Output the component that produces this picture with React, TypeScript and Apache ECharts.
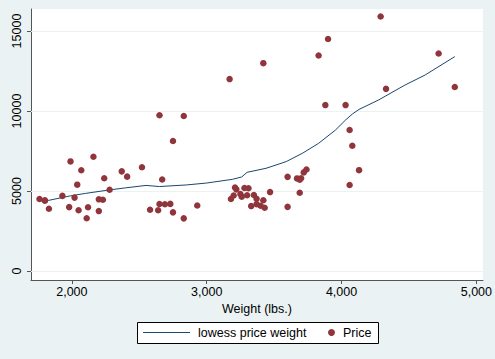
import React, { useEffect, useRef } from "react";
import * as echarts from "echarts";

// Weight (lbs.) and Price of the 74 cars
const weight = [
  2930, 3350, 2640, 3250, 4080, 3670, 2230, 3280, 3880, 3400,
  4330, 3900, 4290, 2110, 3690, 3180, 3220, 2750, 3430, 2120,
  3600, 3600, 3740, 1800, 2650, 4840, 4720, 3830, 2580, 4060,
  3720, 3370, 4130, 2830, 4060, 3310, 3300, 3690, 3370, 2730,
  4030, 3260, 1800, 2200, 2520, 3330, 3700, 3470, 3210, 3200,
  3420, 2690, 2830, 2070, 2650, 2370, 2020, 2280, 2750, 2240,
  1760, 1980, 3420, 1830, 2050, 2410, 2200, 2670, 2160, 2040,
  1930, 1990, 3170,
];
const price = [
  4099, 4749, 3799, 4816, 7827, 5788, 4453, 5189, 10372, 4082,
  11385, 14500, 15906, 3299, 5705, 4504, 5104, 3667, 3955, 3984,
  4010, 5886, 6342, 4389, 4187, 11497, 13594, 13466, 3829, 5379,
  6165, 4516, 6303, 3291, 8814, 5172, 4733, 4890, 4181, 4195,
  10371, 4647, 4425, 4482, 6486, 4060, 5798, 4934, 5222, 4723,
  4424, 4172, 9690, 6295, 9735, 6229, 4589, 5079, 8129, 5799,
  4499, 3995, 12990, 3895, 3798, 5899, 3748, 5719, 7140, 5397,
  4697, 6850, 11995,
];

// Lowess smooth
const lowessWeight = [
  1760, 1830, 1990, 2100, 2270, 2400, 2550, 2650, 2850, 3000,
  3190, 3260, 3300, 3440, 3590, 3710, 3830, 3955, 4030, 4080,
  4130, 4275, 4470, 4620, 4840,
];
const lowessPrice = [
  4380, 4420, 4700, 4850, 5060, 5200, 5350, 5280, 5380, 5500,
  5730, 5880, 6170, 6420, 6840, 7360, 7980, 8810, 9440, 9810,
  10100, 10690, 11620, 12250, 13400,
];

const xTicks = [2000, 3000, 4000, 5000];
const yTicks = [0, 5000, 10000, 15000];

const BG = "#EAF2F3";
const NAVY = "#1A476F";
const MAROON = "#90353B";
const AXIS = "#555555";
const FONT = "Liberation Sans, Arial, sans-serif";

export default function App() {
  const ref = useRef<HTMLDivElement>(null);

  useEffect(() => {
    document.body.style.margin = "0";
    if (!ref.current) return;
    const chart = echarts.init(ref.current, undefined, { renderer: "svg" });
    const scatterData = weight.map((w, i) => [w, price[i]]);
    const lineData = lowessWeight.map((w, i) => [w, lowessPrice[i]]);

    chart.setOption({
      animation: false,
      backgroundColor: BG,
      textStyle: { fontFamily: FONT },
      grid: {
        left: 31,
        right: 10,
        top: 9,
        bottom: 79,
        show: true,
        backgroundColor: "#ffffff",
        borderWidth: 0,
      },
      xAxis: {
        type: "value",
        min: 1697,
        max: 5049,
        name: "Weight (lbs.)",
        nameLocation: "middle",
        nameGap: 20,
        nameTextStyle: { color: "#000", fontSize: 12.5, fontFamily: FONT },
        axisLine: { show: true, onZero: false, lineStyle: { color: AXIS, width: 1 } },
        axisTick: { show: true, length: 4, customValues: xTicks, lineStyle: { color: AXIS } },
        axisLabel: {
          customValues: xTicks,
          color: "#000",
          fontSize: 12.5,
          fontFamily: FONT,
          margin: 5,
          formatter: (v: number) => v.toLocaleString("en-US"),
        },
        splitLine: { show: false },
      },
      yAxis: {
        type: "value",
        min: -560,
        max: 16375,
        axisLine: { show: true, onZero: false, lineStyle: { color: AXIS, width: 1 } },
        axisTick: { show: true, length: 4, customValues: yTicks, lineStyle: { color: AXIS } },
        axisLabel: {
          customValues: yTicks,
          rotate: 90,
          color: "#000",
          fontSize: 12.5,
          fontFamily: FONT,
          margin: 8,
          formatter: (v: number) => String(v),
        },
        splitLine: { show: false },
      },
      legend: [
        {
          left: 143,
          top: 326,
          padding: 0,
          itemWidth: 47,
          itemHeight: 14,
          itemGap: 0,
          data: [{ name: "lowess price weight", icon: "path://M0,6.5L47,6.5L47,7.5L0,7.5Z" }],
          textStyle: { color: "#000", fontSize: 12.5, fontFamily: FONT, padding: [0, 0, 0, 3] },
          z: 10,
        },
        {
          left: 328,
          top: 326,
          padding: 0,
          itemWidth: 7,
          itemHeight: 14,
          data: [{ name: "Price", icon: "circle" }],
          textStyle: { color: "#000", fontSize: 12.5, fontFamily: FONT, padding: [0, 0, 0, 3] },
          z: 10,
        },
      ],
      graphic: [
        {
          type: "rect",
          left: 137,
          top: 322,
          z: 1,
          shape: { width: 241, height: 21 },
          style: { fill: "#ffffff", stroke: "#000000", lineWidth: 1 },
        },
      ],
      series: [
        {
          name: "lowess price weight",
          type: "line",
          data: lineData,
          showSymbol: false,
          symbol: "none",
          lineStyle: { color: NAVY, width: 1 },
          itemStyle: { color: NAVY },
          z: 3,
          markLine: {
            silent: true,
            symbol: "none",
            label: { show: false },
            lineStyle: { color: BG, width: 1, type: "solid" },
            data: yTicks.map((v) => ({ yAxis: v })),
            z: 1,
          },
        },
        {
          name: "Price",
          type: "scatter",
          data: scatterData,
          symbol: "circle",
          symbolSize: 6.5,
          itemStyle: { color: MAROON, opacity: 1 },
          z: 4,
        },
      ],
    });

    return () => chart.dispose();
  }, []);

  return <div ref={ref} style={{ width: 495, height: 359 }} />;
}
